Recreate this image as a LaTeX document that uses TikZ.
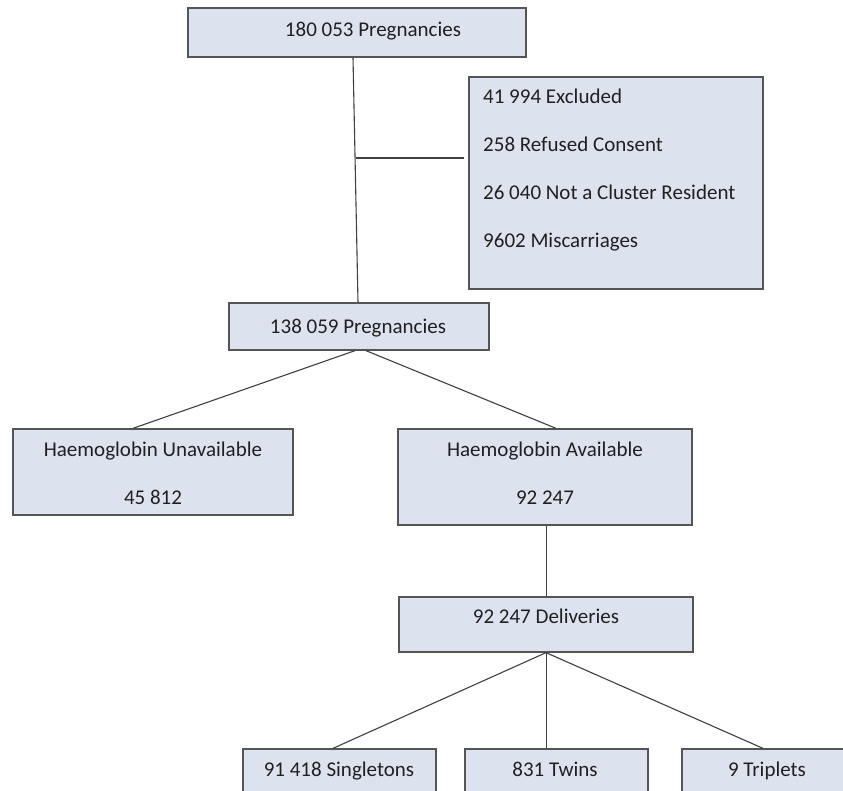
\documentclass[tikz,border=0pt]{standalone}
\usepackage{fontspec}
\setmainfont{Carlito}
\usetikzlibrary{calc}
\definecolor{boxfill}{RGB}{221,227,238}
\definecolor{boxdraw}{RGB}{85,85,85}
\definecolor{linecol}{RGB}{64,64,64}
\definecolor{txtcol}{RGB}{32,32,32}
\begin{document}
\begin{tikzpicture}[x=1pt,y=-1pt,
  box/.style={draw=boxdraw, fill=boxfill, line width=1.3pt, inner sep=0pt},
  txt/.style={font=\fontsize{21}{24}\selectfont, text=txtcol, inner sep=0pt, anchor=base},
  ltxt/.style={txt, anchor=base west},
  conn/.style={draw=linecol, line width=1.1pt}]
\useasboundingbox (0,0) rectangle (843,791);
\clip (0,0) rectangle (843,791);
\fill[white] (0,0) rectangle (843,791);

% boxes
\node[box, minimum width=338pt, minimum height=49pt] (top) at (357,32.5) {};
\node[box, minimum width=294pt, minimum height=212pt] (excl) at (616,183) {};
\node[box, minimum width=260pt, minimum height=47pt] (mid) at (359,326.5) {};
\node[box, minimum width=280pt, minimum height=86pt] (unav) at (153,472) {};
\node[box, minimum width=294pt, minimum height=96pt] (avail) at (545,477) {};
\node[box, minimum width=294pt, minimum height=55pt] (deliv) at (546,624.5) {};
\node[box, minimum width=193pt, minimum height=49pt] (single) at (339.5,773.5) {};
\node[box, minimum width=183pt, minimum height=49pt] (twins) at (556.5,773.5) {};
\node[box, minimum width=178pt, minimum height=49pt] (trip) at (771,773.5) {};

% texts
\node[txt] (topt) at (373,37) {180 053 Pregnancies};
\node[ltxt] (ex1) at (483,103.5) {41 994 Excluded};
\node[ltxt] (ex2) at (483,151.5) {258 Refused Consent};
\node[ltxt] (ex3) at (483,199.5) {26 040 Not a Cluster Resident};
\node[ltxt] (ex4) at (483,248) {9602 Miscarriages};
\node[txt] (midt) at (358,333.5) {138 059 Pregnancies};
\node[txt] (unav1) at (153,456.5) {Haemoglobin Unavailable};
\node[txt] (unav2) at (153,504.5) {45 812};
\node[txt] (avail1) at (545,456.5) {Haemoglobin Available};
\node[txt] (avail2) at (545,504.5) {92 247};
\node[txt] (delivt) at (546,623.5) {92 247 Deliveries};
\node[txt] (singlet) at (339,776.5) {91 418 Singletons};
\node[txt] (twinst) at (555,776.5) {831 Twins};
\node[txt] (tript) at (767,776.5) {9 Triplets};

% connectors
\draw[conn] ($(top.south)+(-4,0)$) -- ($(mid.north)+(-1,0)$);
\coordinate (br) at (355.5,158);
\draw[conn] (br) -- ($(excl.west |- br)+(-4,0)$);
\draw[conn] ($(mid.south)+(-4,0)$) -- ($(unav.north)+(-20,0)$);
\draw[conn] ($(mid.south)+(7,0)$) -- ($(avail.north)+(11,0)$);
\draw[conn] ($(avail.south)+(1.5,0)$) -- ($(deliv.north)+(0.5,0)$);
\draw[conn] (deliv.south) -- ($(single.north)+(-6.5,0)$);
\draw[conn] ($(deliv.south)+(0.5,0)$) -- ($(twins.north)+(-10,0)$);
\draw[conn] (deliv.south) -- ($(trip.north)+(-8,0)$);
\end{tikzpicture}
\end{document}
